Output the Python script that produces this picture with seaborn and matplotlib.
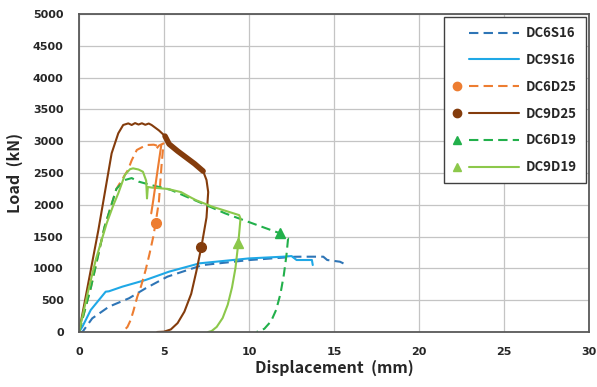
import matplotlib
matplotlib.use("Agg")
import matplotlib.pyplot as plt
from matplotlib.lines import Line2D
from matplotlib.legend_handler import HandlerBase
import seaborn as sns
import pandas as pd

# ---------------- data ----------------
dc6s16_x = [0, 0.2, 0.78, 1.76, 2.94, 3.92, 5.2, 7.27, 10.0, 12.7, 13.0, 14.37, 14.6, 15.35, 15.75]
dc6s16_y = [0, 0, 215, 398, 530, 687, 870, 1052, 1131, 1183, 1184, 1184, 1132, 1105, 1053]

dc9s16_x = [0, 0.2, 0.69, 1.57, 1.76, 2.55, 3.92, 5.3, 7.1, 10.0, 12.0, 12.5, 12.8, 13.7, 13.75]
dc9s16_y = [0, 83, 346, 634, 640, 713, 818, 949, 1080, 1157, 1184, 1194, 1132, 1132, 1053]

dc6d25_x = [0, 0.7, 1.5, 2.2, 2.7, 2.88, 3.1, 3.4, 3.96, 4.4, 4.65, 4.55, 4.7, 4.97, 4.85, 4.7, 4.51,
            4.37, 4.15, 3.92, 3.65, 3.43, 3.2, 3.04, 2.85, 2.65, 2.5]
dc6d25_y = [0, 700, 1650, 2250, 2470, 2547, 2700, 2862, 2940, 2945, 2925, 2880, 2930, 2966, 2600, 2050, 1719,
            1500, 1230, 975, 720, 555, 330, 189, 80, 25, 0]
dc6d25_seg_x = [4.84, 4.6, 4.37, 4.25]
dc6d25_seg_y = [2940, 2500, 2075, 1866]
dc6d25_mark = (4.51, 1719)

dc9d25_x = [0, 1.14, 1.92, 2.31, 2.6, 2.9, 3.1, 3.3, 3.5, 3.7, 3.9, 4.1, 4.27, 4.7, 5.06,
            5.3, 5.8, 6.3, 6.8, 7.3, 7.5, 7.6, 7.5, 7.2, 6.9, 6.6, 6.2, 5.8, 5.4, 5.0, 4.6]
dc9d25_y = [0, 1604, 2810, 3124, 3255, 3280, 3255, 3285, 3262, 3282, 3258, 3278, 3255, 3170, 3080,
            2960, 2850, 2750, 2650, 2530, 2390, 2200, 1800, 1340, 950, 600, 320, 140, 40, 5, 0]
dc9d25_band_x = [5.06, 5.3, 5.8, 6.3, 6.8, 7.3]
dc9d25_band_y = [3080, 2955, 2845, 2745, 2645, 2530]
dc9d25_mark = (7.2, 1340)

dc6d19_x = [0, 0.7, 1.5, 2.2, 2.7, 3.1, 3.5, 4.25, 5.4, 6.3, 7.27, 8.6, 9.67, 10.7, 11.82, 12.3,
            12.2, 12.05, 11.85, 11.6, 11.3, 10.9, 10.45]
dc6d19_y = [0, 700, 1650, 2250, 2390, 2420, 2365, 2310, 2235, 2130, 2020, 1865, 1760, 1660, 1552, 1473,
            1200, 900, 600, 350, 170, 50, 0]
dc6d19_mark = (11.82, 1552)

dc9d19_x = [0, 0.5, 1.0, 1.63, 2.0, 2.31, 2.7, 3.0, 3.18, 3.5, 3.76, 3.95, 4.0, 4.05, 4.3, 5.2, 6.0, 6.5, 6.88,
            7.86, 9.42, 9.5, 9.37, 9.2, 9.0, 8.75, 8.45, 8.1, 7.8, 7.6]
dc9d19_y = [0, 600, 1150, 1710, 1980, 2180, 2470, 2560, 2573, 2555, 2520, 2380, 2100, 2280, 2270, 2250, 2200, 2126, 2073,
            1969, 1838, 1785, 1394, 1000, 700, 430, 220, 80, 15, 0]
dc9d19_mark = (9.37, 1394)

labels = ["DC6S16", "DC9S16", "DC6D25", "DC9D25", "DC6D19", "DC9D19"]
colors = ["#2E75B6", "#1FA8E6", "#ED7D31", "#843C0C", "#22B04B", "#8CC84B"]

x_ticks = [0, 5, 10, 15, 20, 25, 30]
y_ticks = [0, 500, 1000, 1500, 2000, 2500, 3000, 3500, 4000, 4500, 5000]

# ---------------- plotting ----------------
sns.set_style("whitegrid")
plt.rcParams['font.family'] = ['Noto Sans CJK KR', 'DejaVu Sans']

fig = plt.figure(figsize=(5.97, 3.87), dpi=100)
ax = fig.add_axes([79/597, 1 - 332/387, (589 - 79)/597, (332 - 14)/387])

LW = 1.5
DASH = (4.5, 2.5)

curves = [
    (dc6s16_x, dc6s16_y, True, None, None),
    (dc9s16_x, dc9s16_y, False, None, None),
    (dc6d25_x, dc6d25_y, True, "o", dc6d25_mark),
    (dc9d25_x, dc9d25_y, False, "o", dc9d25_mark),
    (dc6d19_x, dc6d19_y, True, "^", dc6d19_mark),
    (dc9d19_x, dc9d19_y, False, "^", dc9d19_mark),
]

for (xs, ys, dashed, mk, mpt), lab, col in zip(curves, labels, colors):
    df = pd.DataFrame({"x": xs, "y": ys})
    sns.lineplot(data=df, x="x", y="y", sort=False, estimator=None, ax=ax,
                 color=col, lw=LW, dashes=False, legend=False)
    line = ax.lines[-1]
    if dashed:
        line.set_dashes(DASH)
    if mk is not None:
        ax.plot([mpt[0]], [mpt[1]], marker=mk, color=col, ms=7, ls="none", zorder=5)

# extra segments
seg = pd.DataFrame({"x": dc6d25_seg_x, "y": dc6d25_seg_y})
sns.lineplot(data=seg, x="x", y="y", sort=False, estimator=None, ax=ax, color=colors[2], lw=LW, legend=False)
band = pd.DataFrame({"x": dc9d25_band_x, "y": dc9d25_band_y})
sns.lineplot(data=band, x="x", y="y", sort=False, estimator=None, ax=ax, color=colors[3], lw=4.0, legend=False)

ax.set_xlim(0, 30)
ax.set_ylim(0, 5000)
ax.set_xticks(x_ticks)
ax.set_yticks(y_ticks)
tick_font = {"family": "DejaVu Sans", "weight": "bold", "size": 8}
ax.set_xticklabels([str(v) for v in x_ticks], fontdict=tick_font)
ax.set_yticklabels([str(v) for v in y_ticks], fontdict=tick_font)
ax.tick_params(axis="x", length=0, pad=11)
ax.tick_params(axis="y", length=0, pad=11)
ax.grid(True, color="#C4C4C4", lw=0.9)
for s in ax.spines.values():
    s.set_color("#595959")
    s.set_linewidth(1.3)
ax.set_xlabel("Displacement  (mm)", fontsize=11.5, fontweight="bold", labelpad=2)
ax.set_ylabel("Load  (kN)", fontsize=11.5, fontweight="bold", labelpad=7)


class MarkerLineHandler(HandlerBase):
    def __init__(self, marker, dashed, color):
        super().__init__()
        self.marker = marker
        self.dashed = dashed
        self.color = color

    def create_artists(self, legend, orig_handle, xdescent, ydescent, width, height, fontsize, trans):
        y = height / 2 - ydescent
        x0 = -xdescent
        arts = []
        ln = Line2D([x0 + 0.24 * width, x0 + width], [y, y], color=self.color, lw=LW)
        if self.dashed:
            ln.set_dashes(DASH)
        ln.set_transform(trans)
        arts.append(ln)
        if self.marker is not None:
            mk = Line2D([x0 + 0.06 * width], [y], marker=self.marker, color=self.color, ms=6, ls="none")
            mk.set_transform(trans)
            arts.append(mk)
        return arts


handles = []
hmap = {}
for (xs, ys, dashed, mk, mpt), lab, col in zip(curves, labels, colors):
    h = Line2D([], [], color=col)
    handles.append(h)
    hmap[h] = MarkerLineHandler(mk, dashed, col)

leg = ax.legend(handles, labels, handler_map=hmap, loc="upper right",
                bbox_to_anchor=(586/597, 1 - 17/387), bbox_transform=fig.transFigure,
                borderaxespad=0, frameon=True, fancybox=False, framealpha=1,
                handlelength=5.0, handletextpad=0.5, labelspacing=0.97,
                borderpad=0.7, prop={"weight": "bold", "size": 9.5})
leg.get_frame().set_edgecolor("#404040")
leg.get_frame().set_linewidth(1.0)

fig.savefig("out.png", dpi=100)
